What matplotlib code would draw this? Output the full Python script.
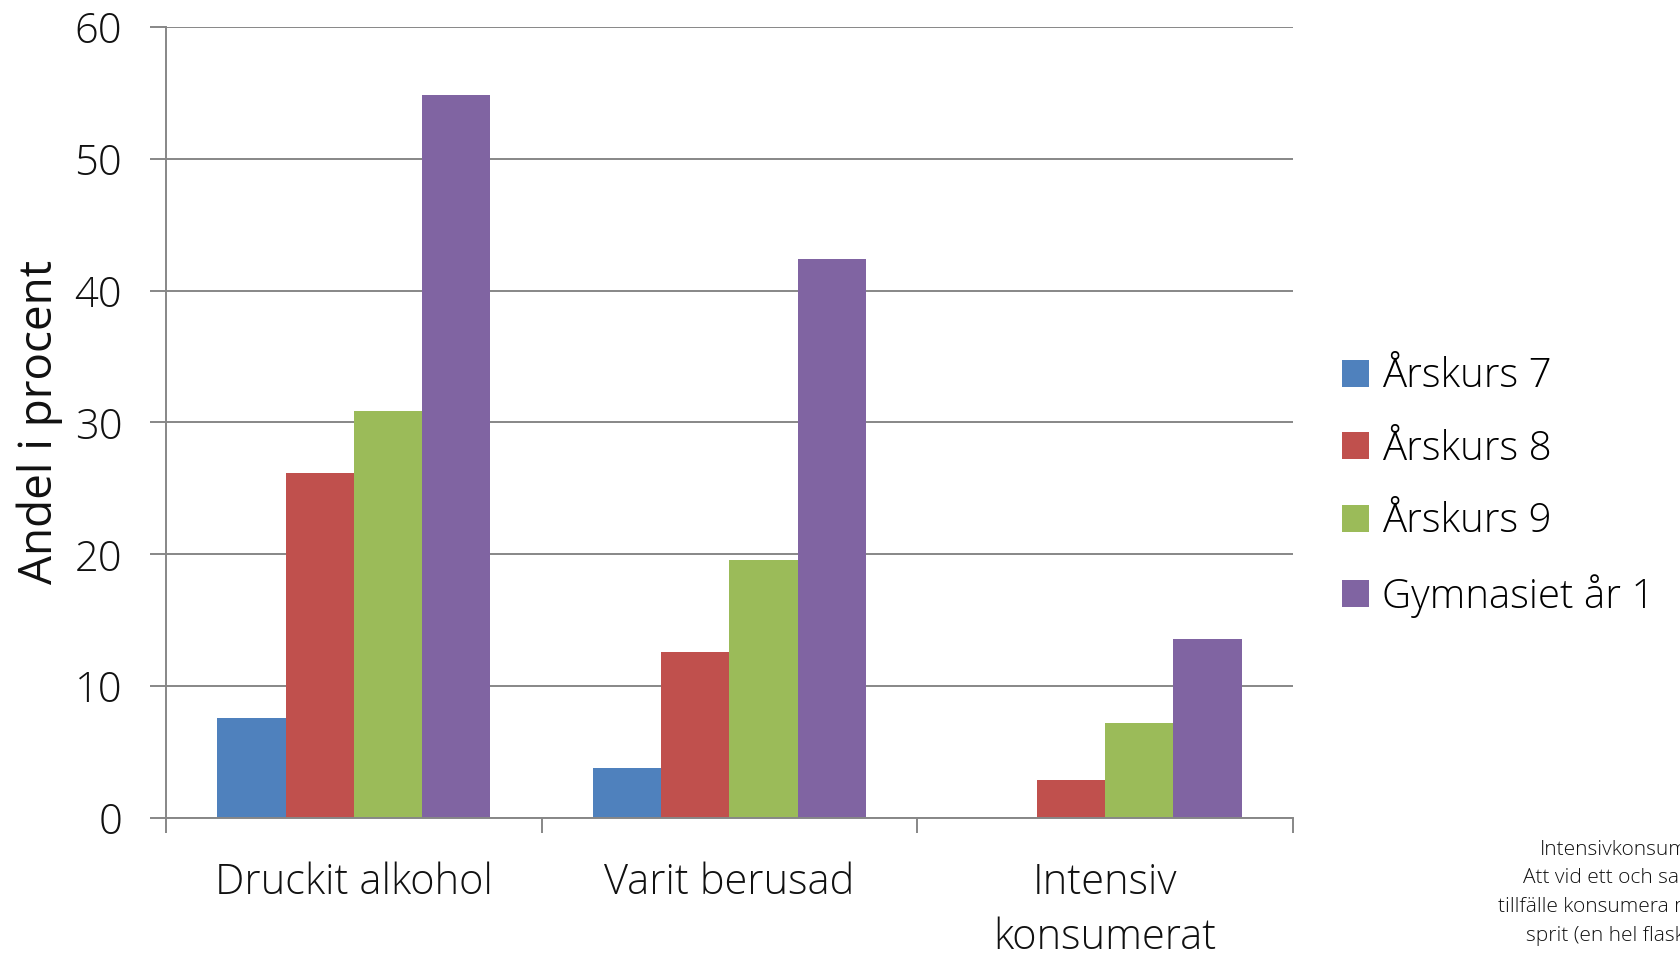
import matplotlib.pyplot as plt
import numpy as np

categories = ["Druckit alkohol", "Varit berusad", "Intensiv\nkonsumerat"]
series = ["Årskurs 7", "Årskurs 8", "Årskurs 9", "Gymnasiet år 1"]
arskurs7 = [7.6, 3.8, 0.0]
arskurs8 = [26.2, 12.6, 2.9]
arskurs9 = [30.9, 19.6, 7.2]
gymnasiet1 = [54.8, 42.4, 13.6]
yticks = [0, 10, 20, 30, 40, 50, 60]
note_lines = ["Intensivkonsumerat:", "Att vid ett och samma",
              "tillfälle konsumera minst 18 cl", "sprit (en hel flaska vin)"]

colors = ["#4F81BD", "#C0504D", "#9BBB59", "#8064A2"]
grey = "#878787"

plt.rcParams['font.family'] = ['Open Sans', 'DejaVu Sans']
plt.rcParams['font.weight'] = 'light'

fig = plt.figure(figsize=(16.8, 9.55), dpi=100)
ax = fig.add_axes([166 / 1680, 1 - 818 / 955, (1293 - 166) / 1680, (818 - 26.8) / 955])

x = np.arange(len(categories))
w = 1 / 5.5
values = [arskurs7, arskurs8, arskurs9, gymnasiet1]
for i, (name, vals) in enumerate(zip(series, values)):
    ax.bar(x + (i - 1.5) * w, vals, w, color=colors[i], label=name, zorder=3)

ax.set_xlim(-0.5, 2.5)
ax.set_ylim(0, 60)
ax.set_yticks(yticks)
ax.yaxis.grid(True, color=grey, linewidth=1.4, zorder=0)
ax.tick_params(axis='y', direction='out', length=11.5, width=1.4, color=grey,
               pad=20, labelsize=30, labelcolor='#111111')

# category boundaries as major ticks, labels on minor ticks
ax.set_xticks([-0.5, 0.5, 1.5, 2.5])
ax.set_xticklabels([])
ax.set_xticks(x, minor=True)
ax.set_xticklabels(categories, minor=True, fontsize=30, color='#111111', linespacing=1.4)
ax.tick_params(axis='x', which='major', direction='out', length=11, width=1.4, color=grey)
ax.tick_params(axis='x', which='minor', length=0, pad=31)

for s in ['top', 'right']:
    ax.spines[s].set_visible(False)
for s in ['left', 'bottom']:
    ax.spines[s].set_color(grey)
    ax.spines[s].set_linewidth(1.4)
    ax.spines[s].set_zorder(4)

ax.set_ylabel("Andel i procent", fontsize=33, color='#111111', labelpad=8)

fig.legend(loc='center left', bbox_to_anchor=(1342 / 1680, 1 - 487 / 955),
           frameon=False, fontsize=29, handlelength=0.66, handleheight=0.66,
           handletextpad=0.33, labelspacing=0.78, borderpad=0, borderaxespad=0)

note_x = [1540, 1523, 1498, 1526]
note_y = [855, 883, 912, 941]
for txt, nx, ny in zip(note_lines, note_x, note_y):
    fig.text(nx / 1680, 1 - ny / 955, txt, fontsize=15, ha='left', va='baseline',
             color='#111111')

plt.savefig('out.png', dpi=100)
